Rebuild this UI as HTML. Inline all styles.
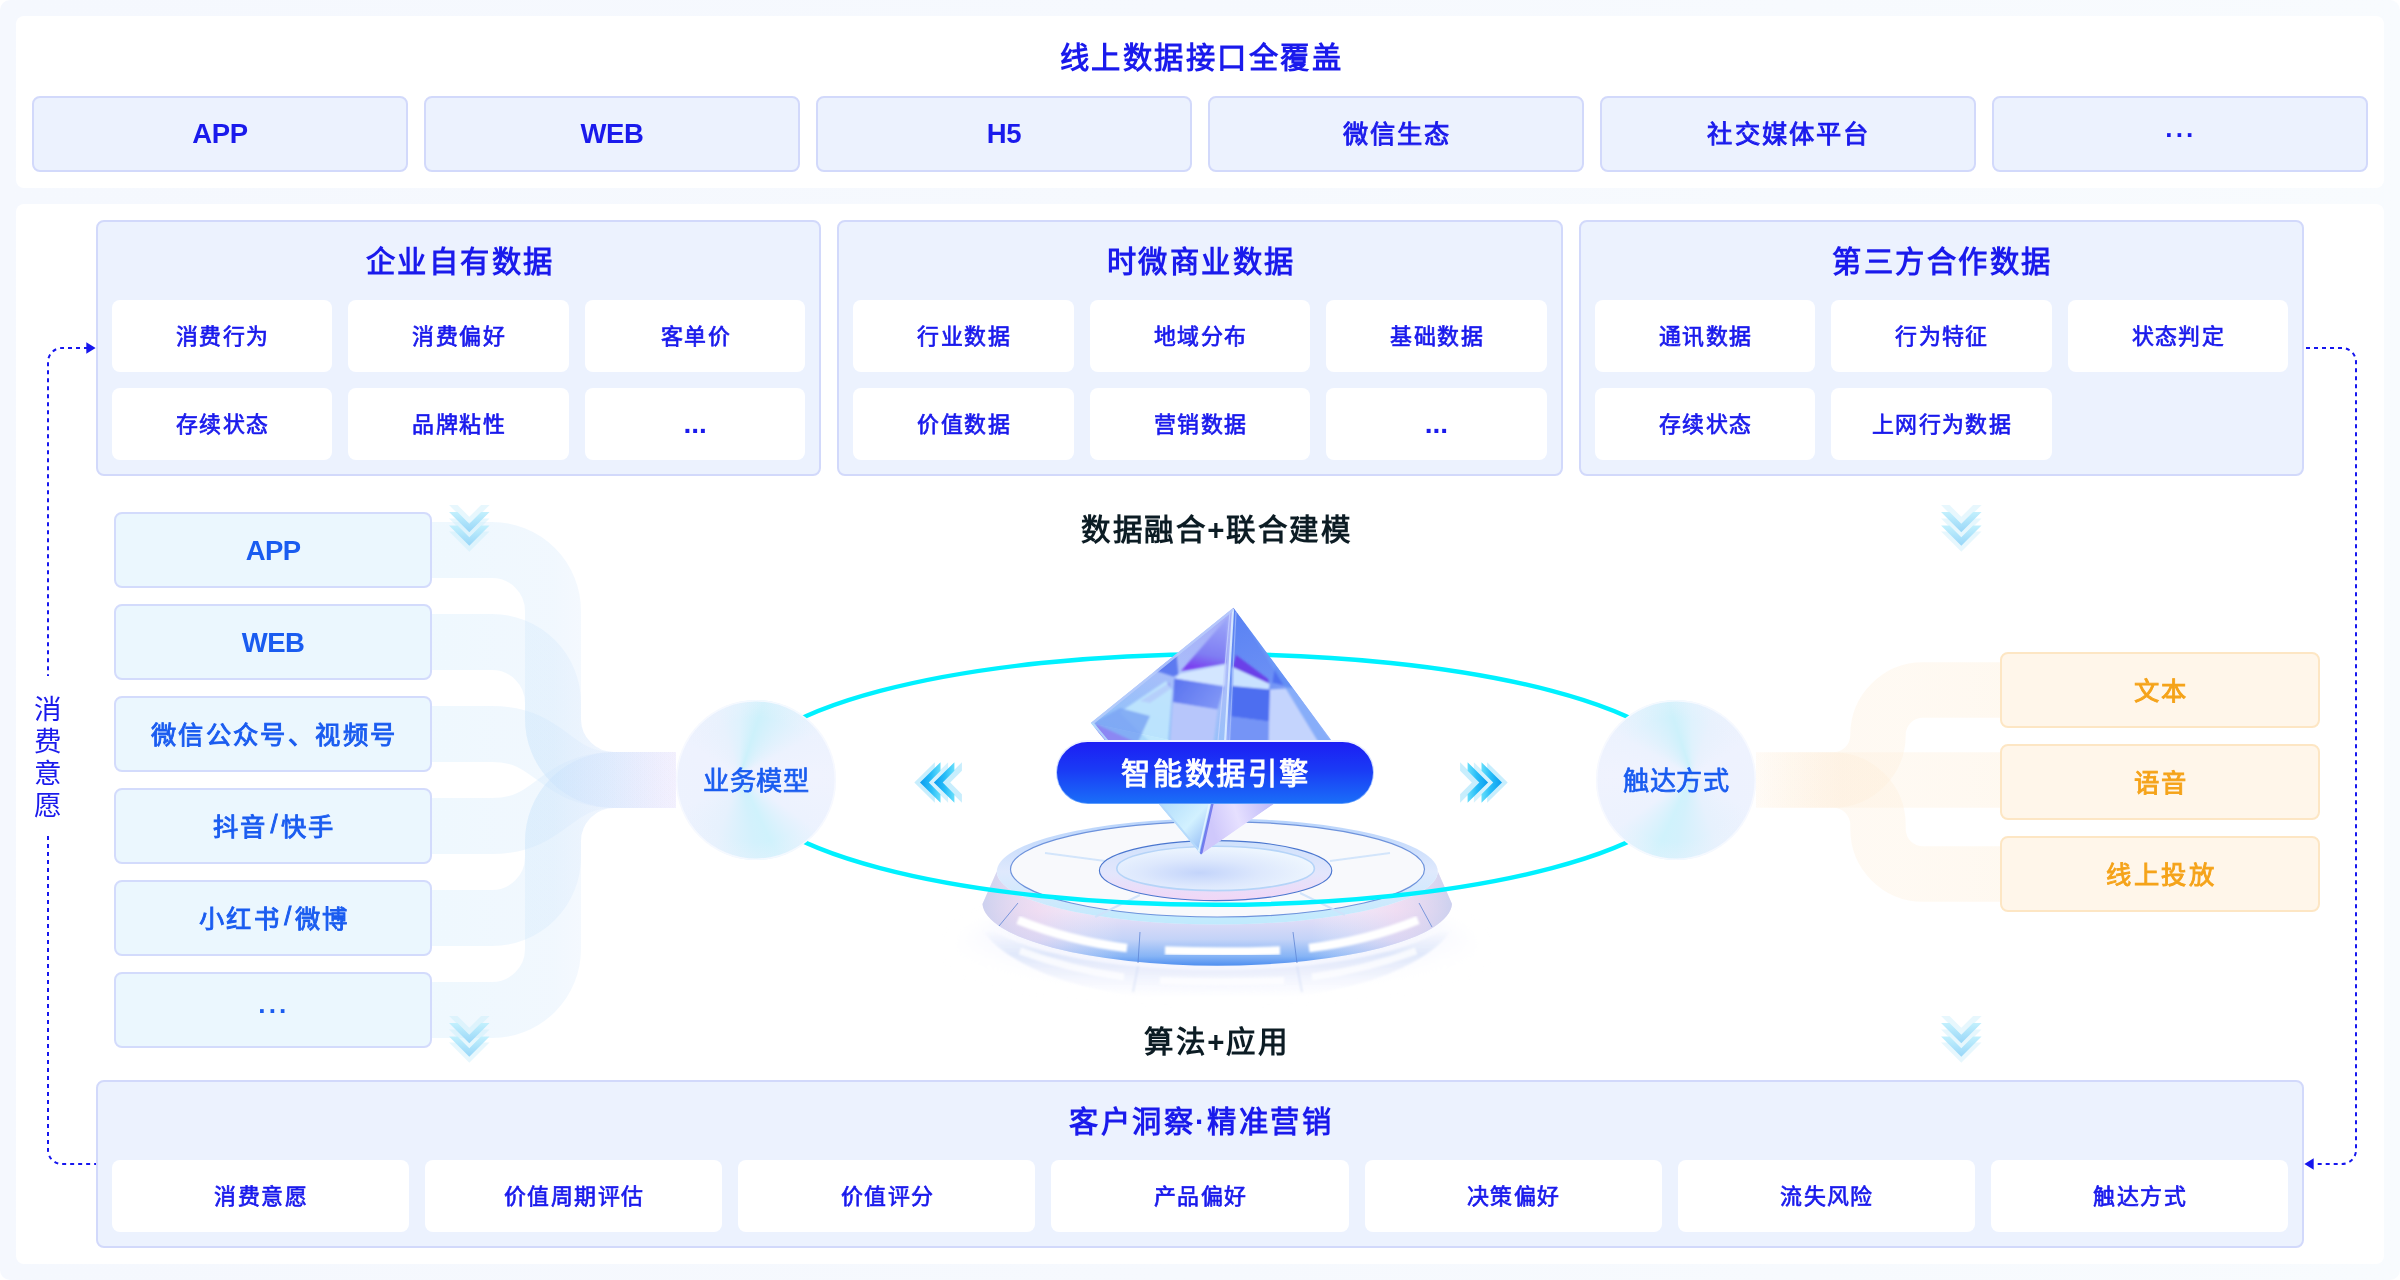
<!DOCTYPE html>
<html lang="zh-CN">
<head>
<meta charset="utf-8">
<title>线上数据接口全覆盖</title>
<style>
html,body{margin:0;padding:0;background:#fff;}
body{width:2400px;height:1280px;position:relative;overflow:hidden;font-family:"Liberation Sans",sans-serif;-webkit-font-smoothing:antialiased;}
#root{position:absolute;left:0;top:0;width:2400px;height:1280px;will-change:transform;transform:translateZ(0);}
#bg{position:absolute;left:0;top:0;width:2400px;height:1280px;background:linear-gradient(90deg,#f5f8fe 0%,#f6f9fe 50%,#f8fbfe 100%);border-radius:10px;}
.abs{position:absolute;}
.panel{position:absolute;background:#fff;border-radius:8px;}
.c{display:flex;align-items:center;justify-content:center;white-space:nowrap;}
.btn{position:absolute;box-sizing:border-box;border:2px solid #d2d9fb;background:#ecf2fe;border-radius:8px;color:#1a1aec;font-weight:700;font-size:27.5px;letter-spacing:-0.4px;}
.k{font-weight:400;-webkit-text-stroke:0.9px currentColor;font-size:25.3px;letter-spacing:2.2px;padding-left:2.2px;padding-bottom:3.6px;}
.grp{position:absolute;box-sizing:border-box;border:2px solid #d2d9fb;background:#ecf2fe;border-radius:8px;}
.ttl{position:absolute;color:#1a1aec;font-weight:700;font-size:29.3px;letter-spacing:2.5px;padding-left:2.5px;box-sizing:border-box;line-height:40px;height:40px;margin-top:0.5px;}
.cell{position:absolute;width:220.44px;height:72px;background:#fff;border-radius:8px;color:#1a1aec;font-size:21.9px;letter-spacing:1.45px;padding-left:1.45px;padding-bottom:4px;box-sizing:border-box;font-weight:400;-webkit-text-stroke:0.7px #1a1aec;}
.cellw{width:297.14px;}
.li{position:absolute;left:114px;width:318px;height:76px;box-sizing:border-box;border:2px solid #d3dbfc;background:#ebf7fe;border-radius:8px;color:#1a5cf0;font-weight:400;-webkit-text-stroke:0.9px #1a5cf0;font-size:25.3px;letter-spacing:2.4px;padding-left:2.4px;padding-bottom:2.2px;}
.ro{position:absolute;left:2000px;width:320px;height:76px;box-sizing:border-box;border:2px solid #fde6c4;background:#fff6ea;border-radius:8px;color:#f5a31a;font-weight:400;-webkit-text-stroke:0.9px #f5a31a;font-size:25.3px;letter-spacing:2.4px;padding-left:2.4px;padding-bottom:2.2px;}
.blk{position:absolute;color:#0c1c24;font-weight:700;font-size:29.5px;letter-spacing:1.6px;padding-left:1.6px;box-sizing:border-box;line-height:40px;height:40px;margin-top:1px;}
.circ{position:absolute;width:160px;height:160px;border-radius:50%;color:#1a5cf0;font-size:26.2px;letter-spacing:.9px;padding-left:.9px;padding-bottom:2.4px;box-sizing:border-box;font-weight:400;-webkit-text-stroke:0.7px #1a5cf0;}
svg{position:absolute;left:0;top:0;overflow:visible;}
.lat{font-weight:700;-webkit-text-stroke:0;font-size:27.5px;letter-spacing:-0.6px;padding-left:0;padding-bottom:0;padding-top:2px;}
.md{font-weight:700;-webkit-text-stroke:0;font-size:26px;letter-spacing:1.64px;padding-left:1.64px;padding-bottom:0;padding-top:3px;}
.bd{font-weight:700;-webkit-text-stroke:0;font-size:28px;letter-spacing:0;padding-left:0;padding-bottom:0;padding-top:0;}
</style>
</head>
<body>
<div id="root">
<div id="bg"></div>

<!-- top panel -->
<div class="panel" style="left:16px;top:16px;width:2368px;height:172px;"></div>
<div class="ttl c" style="left:900px;top:37px;width:600px;">线上数据接口全覆盖</div>
<div class="btn c" style="left:32px;top:96px;width:376px;height:76px;">APP</div>
<div class="btn c" style="left:424px;top:96px;width:376px;height:76px;">WEB</div>
<div class="btn c" style="left:816px;top:96px;width:376px;height:76px;">H5</div>
<div class="btn k c" style="left:1208px;top:96px;width:376px;height:76px;">微信生态</div>
<div class="btn k c" style="left:1600px;top:96px;width:376px;height:76px;">社交媒体平台</div>
<div class="btn md c" style="left:1992px;top:96px;width:376px;height:76px;">···</div>

<!-- main panel -->
<div class="panel" style="left:16px;top:204px;width:2368px;height:1060px;"></div>

<!-- GRAPHICS-BACK -->
<svg id="gback" width="2400" height="1280" viewBox="0 0 2400 1280">
<defs>
  <linearGradient id="bandL" gradientUnits="userSpaceOnUse" x1="432" y1="0" x2="676" y2="0">
    <stop offset="0" stop-color="#c9e8fc" stop-opacity=".3"/>
    <stop offset=".5" stop-color="#c9e3fb" stop-opacity=".26"/>
    <stop offset=".75" stop-color="#d2e2fb" stop-opacity=".17"/>
    <stop offset="1" stop-color="#e2dcfa" stop-opacity=".09"/>
  </linearGradient>
  <linearGradient id="bandR" gradientUnits="userSpaceOnUse" x1="1756" y1="0" x2="2000" y2="0">
    <stop offset="0" stop-color="#fdecd6" stop-opacity=".08"/>
    <stop offset=".35" stop-color="#fdecd6" stop-opacity=".3"/>
    <stop offset=".6" stop-color="#feeed8" stop-opacity=".32"/>
    <stop offset="1" stop-color="#feefda" stop-opacity=".4"/>
  </linearGradient>
  <linearGradient id="skirt" x1="0" y1="0" x2="0" y2="1">
    <stop offset="0" stop-color="#ebebfb"/>
    <stop offset=".42" stop-color="#ece1f7"/>
    <stop offset=".72" stop-color="#c3d3f8"/>
    <stop offset=".9" stop-color="#86b4f6"/>
    <stop offset="1" stop-color="#4f8ff0"/>
  </linearGradient>
  <linearGradient id="skirtH" x1="0" y1="0" x2="1" y2="0">
    <stop offset="0" stop-color="#c9cfee" stop-opacity=".9"/>
    <stop offset=".12" stop-color="#f3d9ee" stop-opacity=".5"/>
    <stop offset=".3" stop-color="#ffffff" stop-opacity="0"/>
    <stop offset=".7" stop-color="#ffffff" stop-opacity="0"/>
    <stop offset=".88" stop-color="#f3d9ee" stop-opacity=".5"/>
    <stop offset="1" stop-color="#c9cfee" stop-opacity=".9"/>
  </linearGradient>
  <linearGradient id="rimG" x1="0" y1="0" x2="0" y2="1">
    <stop offset="0" stop-color="#b7d3fb"/>
    <stop offset=".5" stop-color="#dfe9fd"/>
    <stop offset="1" stop-color="#bfeafd"/>
  </linearGradient>
  <linearGradient id="cring" x1="0" y1="0" x2="0" y2="1">
    <stop offset="0" stop-color="#cfe2fc"/>
    <stop offset=".55" stop-color="#e3e6fc"/>
    <stop offset="1" stop-color="#f1d6f6"/>
  </linearGradient>
  <radialGradient id="cdisc" cx=".42" cy=".6" r=".6">
    <stop offset="0" stop-color="#c3d4fb"/>
    <stop offset=".5" stop-color="#dde8fd"/>
    <stop offset="1" stop-color="#eef6fe"/>
  </radialGradient>
  <radialGradient id="refl" cx=".5" cy=".35" r=".6">
    <stop offset="0" stop-color="#e4e6fb" stop-opacity=".9"/>
    <stop offset=".6" stop-color="#eef0fd" stop-opacity=".6"/>
    <stop offset="1" stop-color="#ffffff" stop-opacity="0"/>
  </radialGradient>
  <linearGradient id="reflG" gradientUnits="userSpaceOnUse" x1="0" y1="930" x2="0" y2="1000">
    <stop offset="0" stop-color="#cfdcf8" stop-opacity=".0"/>
    <stop offset=".35" stop-color="#cfdcf8" stop-opacity=".6"/>
    <stop offset=".6" stop-color="#dde4fa" stop-opacity=".45"/>
    <stop offset="1" stop-color="#eef0fd" stop-opacity="0"/>
  </linearGradient>
  <filter id="b1" x="-10%" y="-10%" width="120%" height="120%"><feGaussianBlur stdDeviation="1.1"/></filter>
  <filter id="b3" x="-20%" y="-20%" width="140%" height="140%"><feGaussianBlur stdDeviation="3"/></filter>
  <filter id="b8" x="-20%" y="-40%" width="140%" height="180%"><feGaussianBlur stdDeviation="8"/></filter>
  <clipPath id="crysU"><path d="M1233.5 607.5 L1090.5 723 L1201 854.5 L1343 756 Z"/></clipPath>
  <linearGradient id="f1g" gradientUnits="userSpaceOnUse" x1="1200" y1="610" x2="1150" y2="745">
    <stop offset="0" stop-color="#a7aef8"/>
    <stop offset=".45" stop-color="#a9bdfa"/>
    <stop offset="1" stop-color="#8fc2f9"/>
  </linearGradient>
  <linearGradient id="f2g" gradientUnits="userSpaceOnUse" x1="1245" y1="610" x2="1300" y2="745">
    <stop offset="0" stop-color="#5a82f3"/>
    <stop offset=".5" stop-color="#6b90f5"/>
    <stop offset="1" stop-color="#c3cdfe"/>
  </linearGradient>
  <linearGradient id="f3g" gradientUnits="userSpaceOnUse" x1="1160" y1="790" x2="1215" y2="840">
    <stop offset="0" stop-color="#a9d8fb"/>
    <stop offset=".6" stop-color="#d2f1ff"/>
    <stop offset="1" stop-color="#8fb8f6"/>
  </linearGradient>
  <linearGradient id="f4g" gradientUnits="userSpaceOnUse" x1="1210" y1="820" x2="1275" y2="800">
    <stop offset="0" stop-color="#cfc8fb"/>
    <stop offset=".4" stop-color="#e6e0ff"/>
    <stop offset="1" stop-color="#b9b4f8"/>
  </linearGradient>
  <linearGradient id="p1g" gradientUnits="userSpaceOnUse" x1="1215" y1="620" x2="1205" y2="670">
    <stop offset="0" stop-color="#9aa4f8"/>
    <stop offset=".7" stop-color="#7f7df3"/>
    <stop offset="1" stop-color="#7a3ff0"/>
  </linearGradient>
  <linearGradient id="p3g" gradientUnits="userSpaceOnUse" x1="1175" y1="680" x2="1215" y2="710">
    <stop offset="0" stop-color="#5b74f0"/>
    <stop offset="1" stop-color="#8096f6"/>
  </linearGradient>
</defs>

<!-- left connector bands -->
<g fill="none" stroke="url(#bandL)" stroke-width="56">
  <path d="M432 550 H492 A61 61 0 0 1 553 611 V719 A61 61 0 0 0 614 780 H676"/>
  <path d="M432 642 H492 A61 61 0 0 1 553 703 V719 A61 61 0 0 0 614 780 H676"/>
  <path d="M432 734 H492 C553 734 553 780 614 780 H676"/>
  <path d="M432 826 H492 C553 826 553 780 614 780 H676"/>
  <path d="M432 918 H492 A61 61 0 0 0 553 857 V841 A61 61 0 0 1 614 780 H676"/>
  <path d="M432 1010 H492 A61 61 0 0 0 553 949 V841 A61 61 0 0 1 614 780 H676"/>
</g>
<!-- right connector bands -->
<g fill="none" stroke="url(#bandR)" stroke-width="55.4">
  <path d="M1756 780 H1833 A45 45 0 0 0 1878 735 A45 45 0 0 1 1923 690 H2000"/>
  <path d="M1756 780 H2000"/>
  <path d="M1756 780 H1833 A45 45 0 0 1 1878 825 V829 A45 45 0 0 0 1923 874 H2000"/>
</g>

<!-- platform -->
<ellipse cx="1217" cy="948" rx="262" ry="52" fill="url(#refl)" filter="url(#b8)"/>
<g filter="url(#b1)">
  <path d="M975 906 A242 64 0 0 0 1459 906 A242 96 0 0 1 975 906 Z" fill="url(#reflG)"/>
  <g fill="none" stroke="#ffffff" stroke-width="7" opacity=".75">
    <path d="M1020 951 Q1072 970 1124 977"/>
    <path d="M1160 980.5 Q1222 982.5 1284 980.5"/>
    <path d="M1312 977 Q1364 970 1416 951"/>
  </g>
  <g stroke="#cdd9f6" stroke-width="1.2" opacity=".8"><path d="M1138 966 L1133 992"/><path d="M1297 966 L1302 992"/></g>
</g>
<path d="M982.5 904 A234.8 63 0 0 0 1452 904 L1437.8 871.5 A220.5 53 0 0 1 996.8 871.5 Z" fill="url(#skirt)"/>
<path d="M982.5 904 A234.8 63 0 0 0 1452 904 L1437.8 871.5 A220.5 53 0 0 1 996.8 871.5 Z" fill="url(#skirtH)"/>
<!-- slots -->
<g fill="none" stroke="#ffffff" stroke-width="8.5" filter="url(#b1)">
  <path d="M1018 920 Q1070 941 1127 948"/>
  <path d="M1165 950.5 Q1222 952.5 1280 950.5"/>
  <path d="M1309 948 Q1366 941 1418 920"/>
</g>
<g stroke="#5f86d6" stroke-width="1" fill="none" opacity=".8">
  <path d="M1018 903 L999 926"/><path d="M1140 932 L1138 963"/><path d="M1293 932 L1297 963"/><path d="M1419 903 L1432 927"/>
</g>
<ellipse cx="1217.3" cy="871.5" rx="220.5" ry="53" fill="url(#rimG)"/>
<ellipse cx="1217.5" cy="869.3" rx="207" ry="47.7" fill="#f8f9fc" stroke="#6e93dc" stroke-width="1.2"/>
<g stroke="#cfe3fb" stroke-width="2" fill="none" opacity=".9">
  <path d="M1045 853 L1105 861"/><path d="M1390 853 L1330 861"/><path d="M1095 917 L1140 895"/><path d="M1345 915 L1300 893"/>
</g>
<ellipse cx="1215.6" cy="870.6" rx="116.2" ry="30" fill="url(#cring)" stroke="#4a76cf" stroke-width="1.1"/>
<ellipse cx="1215.6" cy="868.4" rx="98.8" ry="22.2" fill="url(#cdisc)" stroke="#b5d4f8" stroke-width="1.6"/>

<!-- ring -->
<ellipse cx="1216" cy="779.5" rx="475" ry="125.3" fill="none" stroke="#00f1ff" stroke-width="4.4"/>

<!-- crystal -->
<g clip-path="url(#crysU)">
  <path d="M1233.5 607.5 L1090.5 723 L1224 752 Z" fill="url(#f1g)"/>
  <path d="M1233.5 607.5 L1224 752 L1343 756 Z" fill="url(#f2g)"/>
  <path d="M1090.5 723 L1201 854.5 L1224 752 Z" fill="url(#f3g)"/>
  <path d="M1224 752 L1201 854.5 L1343 756 Z" fill="url(#f4g)"/>
  <g filter="url(#b1)">
    <!-- left facet patches -->
    <path d="M1228 617 L1181 671 L1225.6 663.5 Z" fill="url(#p1g)"/>
    <path d="M1180 673.5 L1225.6 664.5 L1224.4 686 L1175 678.5 Z" fill="#d3e6ff"/>
    <path d="M1174.4 678.5 L1223.8 686.6 L1217.5 709.5 L1173 702.3 Z" fill="url(#p3g)"/>
    <path d="M1155 670.5 L1176.5 654 L1178.3 674.3 L1173.5 676.5 Z" fill="#5d7af0"/>
    <path d="M1173 702.3 L1217.5 709.5 L1213.7 742 L1170 742 Z" fill="#b7c6fb"/>
    <path d="M1140 701 L1168.8 683 L1170.5 689 L1150 703 Z" fill="#7b5af0"/>
    <path d="M1120 712 L1166 681 L1172 690 L1168 742 L1150 742 Z" fill="#c4ecfe" opacity=".8"/>
    <path d="M1094 722 L1120 708 L1150 716 L1138 742 L1100 742 Z" fill="#7da6f4" opacity=".85"/>
    <path d="M1095 723.5 L1135 742 L1100 742 Z" fill="#8f7ef2" opacity=".8"/>
    <!-- right facet patches -->
    <path d="M1236 655 L1268 679 L1270 687 L1232.5 668 Z" fill="#6a3fe8"/>
    <path d="M1232.5 667 L1270 684 L1268.8 690 L1232.5 686.5 Z" fill="#c9e2ff"/>
    <path d="M1232.5 686 L1270 689.5 L1268.8 721.5 L1231.2 716.5 Z" fill="#4d6ef0"/>
    <path d="M1275 667 L1294 688 L1272.5 682.5 Z" fill="#4f6ff0"/>
    <path d="M1231.2 716.5 L1268.8 721.5 L1268.8 742 L1229 742 Z" fill="#7494f6"/>
    <path d="M1270 689.5 L1294 688 L1333 742 L1268.8 742 Z" fill="#c4d4fd"/>
    <path d="M1239 612 L1296 690 L1343 756 L1320 745 Z" fill="#6d9cf6" opacity=".7"/>
  </g>
  <!-- ridge highlights -->
  <g fill="none" stroke-linecap="round">
    <path d="M1233 610 L1224.5 752" stroke="#dff0ff" stroke-width="2.2" opacity=".85"/>
    <path d="M1230 612 L1217 752" stroke="#c9d6ff" stroke-width="1.2" opacity=".7"/>
    <path d="M1236 612 L1229 752" stroke="#a9c1fb" stroke-width="1.2" opacity=".7"/>
    <path d="M1232 610 L1093 722.5" stroke="#b9cdfb" stroke-width="3" opacity=".8"/>
    <path d="M1093 723.5 L1201 853" stroke="#b5d9fc" stroke-width="2" opacity=".9"/>
    <path d="M1224 752 L1201 854" stroke="#5a62ea" stroke-width="2.6" opacity=".75"/>
    <path d="M1221 752 L1198.5 852" stroke="#e6f6ff" stroke-width="1.6" opacity=".9"/>
  </g>
</g>
</svg>
<!-- GRAPHICS-BACK-END -->

<!-- group 1 -->
<div class="grp" style="left:96px;top:220px;width:725.33px;height:256px;"></div>
<div class="ttl c" style="left:159px;top:241px;width:600px;">企业自有数据</div>
<div class="cell c" style="left:112px;top:300px;">消费行为</div>
<div class="cell c" style="left:348.44px;top:300px;">消费偏好</div>
<div class="cell c" style="left:584.88px;top:300px;">客单价</div>
<div class="cell c" style="left:112px;top:388px;">存续状态</div>
<div class="cell c" style="left:348.44px;top:388px;">品牌粘性</div>
<div class="cell bd c" style="left:584.88px;top:388px;">...</div>

<!-- group 2 -->
<div class="grp" style="left:837.33px;top:220px;width:725.33px;height:256px;"></div>
<div class="ttl c" style="left:900px;top:241px;width:600px;">时微商业数据</div>
<div class="cell c" style="left:853.33px;top:300px;">行业数据</div>
<div class="cell c" style="left:1089.77px;top:300px;">地域分布</div>
<div class="cell c" style="left:1326.21px;top:300px;">基础数据</div>
<div class="cell c" style="left:853.33px;top:388px;">价值数据</div>
<div class="cell c" style="left:1089.77px;top:388px;">营销数据</div>
<div class="cell bd c" style="left:1326.21px;top:388px;">...</div>

<!-- group 3 -->
<div class="grp" style="left:1578.67px;top:220px;width:725.33px;height:256px;"></div>
<div class="ttl c" style="left:1641px;top:241px;width:600px;">第三方合作数据</div>
<div class="cell c" style="left:1594.67px;top:300px;">通讯数据</div>
<div class="cell c" style="left:1831.11px;top:300px;">行为特征</div>
<div class="cell c" style="left:2067.55px;top:300px;">状态判定</div>
<div class="cell c" style="left:1594.67px;top:388px;">存续状态</div>
<div class="cell c" style="left:1831.11px;top:388px;">上网行为数据</div>

<!-- left list -->
<div class="li lat c" style="top:512px;">APP</div>
<div class="li lat c" style="top:604px;">WEB</div>
<div class="li c" style="top:696px;">微信公众号、视频号</div>
<div class="li c" style="top:788px;">抖音<span style="margin:0 1px 0 3px">/</span>快手</div>
<div class="li c" style="top:880px;">小红书<span style="margin:0 1px 0 3px">/</span>微博</div>
<div class="li md c" style="top:972px;">···</div>

<!-- right list -->
<div class="ro c" style="top:652px;">文本</div>
<div class="ro c" style="top:744px;">语音</div>
<div class="ro c" style="top:836px;">线上投放</div>

<!-- middle captions -->
<div class="blk c" style="left:916px;top:509px;width:600px;">数据融合+联合建模</div>
<div class="blk c" style="left:916px;top:1021px;width:600px;">算法+应用</div>

<!-- bottom group -->
<div class="grp" style="left:96px;top:1080px;width:2208px;height:168px;"></div>
<div class="ttl c" style="left:900px;top:1101px;width:600px;">客户洞察·精准营销</div>
<div class="cell cellw c" style="left:112px;top:1160px;">消费意愿</div>
<div class="cell cellw c" style="left:425.14px;top:1160px;">价值周期评估</div>
<div class="cell cellw c" style="left:738.29px;top:1160px;">价值评分</div>
<div class="cell cellw c" style="left:1051.43px;top:1160px;">产品偏好</div>
<div class="cell cellw c" style="left:1364.57px;top:1160px;">决策偏好</div>
<div class="cell cellw c" style="left:1677.71px;top:1160px;">流失风险</div>
<div class="cell cellw c" style="left:1990.86px;top:1160px;">触达方式</div>

<!-- GRAPHICS-FRONT -->
<div class="circ c" style="left:676px;top:700px;background:radial-gradient(circle at 50% 50%,rgba(240,244,254,0) 55%,rgba(238,243,254,.9) 100%),conic-gradient(from 0deg at 40% 47%,#dff2fd 0deg,#cdf1fb 18deg,#d6f1fc 30deg,#ecf2fe 62deg,#f0f3fe 90deg,#ecf2fe 125deg,#d0f2fc 155deg,#d3f1fc 168deg,#e6f1fd 200deg,#edf2fe 240deg,#eef2fe 300deg,#e8f1fd 340deg,#dff2fd 360deg);box-shadow:inset 0 0 0 1.5px rgba(247,249,255,.9);">业务模型</div>
<div class="circ c" style="left:1596px;top:700px;background:radial-gradient(circle at 50% 50%,rgba(240,244,254,0) 55%,rgba(238,243,254,.9) 100%),conic-gradient(from 0deg at 60% 47%,#dff2fd 0deg,#e8f1fd 20deg,#eef2fe 60deg,#edf2fe 120deg,#e6f1fd 160deg,#d3f1fc 192deg,#d0f2fc 205deg,#ecf2fe 235deg,#f0f3fe 270deg,#ecf2fe 298deg,#d6f1fc 330deg,#cdf1fb 342deg,#dff2fd 360deg);box-shadow:inset 0 0 0 1.5px rgba(247,249,255,.9);">触达方式</div>
<div class="abs" style="left:1055.6px;top:740.2px;width:318.8px;height:64px;border-radius:32px;background:linear-gradient(180deg,#f2f4ff 0%,#cfdcff 40%,#8db4ff 75%,#5d9bfb 100%);"></div>
<div class="abs c" style="left:1057.2px;top:741.8px;width:315.6px;height:61px;border-radius:31px;box-sizing:border-box;background:linear-gradient(180deg,#1c1ef4 0%,#1a3af5 45%,#1a6ef8 100%);color:#fff;font-weight:400;-webkit-text-stroke:1px #fff;font-size:29.3px;letter-spacing:2.6px;padding-left:2.6px;padding-bottom:2.4px;">智能数据引擎</div>
<div class="abs" style="left:32px;top:692px;width:32px;height:132px;background:#fff;"></div>
<div class="abs" style="left:28px;top:694.2px;width:40px;text-align:center;color:#1a1aec;font-size:27.6px;line-height:32px;font-weight:400;">消<br>费<br>意<br>愿</div>
<svg id="gfront" width="2400" height="1280" viewBox="0 0 2400 1280">
<defs>
  <linearGradient id="chv" x1="0" y1="0" x2="0" y2="1">
    <stop offset="0" stop-color="#c3f0fd"/>
    <stop offset="1" stop-color="#98d6f8"/>
  </linearGradient>
  <linearGradient id="chh" x1="0" y1="0" x2="1" y2="0">
    <stop offset="0" stop-color="#0a9cef"/>
    <stop offset=".55" stop-color="#27bdf8"/>
    <stop offset="1" stop-color="#66defb"/>
  </linearGradient>
  <!-- down chevron, apex at (0,0) outer tip; width 40.5, thickness 9 -->
  <path id="cd" d="M-20.25 -20.25 H-11.75 L0 -8.5 L11.75 -20.25 H20.25 L0 0 Z"/>
  <g id="dchev">
    <use href="#cd" y="-7" fill="#bfe9fb" opacity=".38"/>
    <use href="#cd" y="6.5" fill="#bfe9fb" opacity=".38"/>
    <use href="#cd" y="19.5" fill="#bfe9fb" opacity=".38"/>
    <use href="#cd" y="0" fill="url(#chv)"/>
    <use href="#cd" y="13.5" fill="url(#chv)"/>
  </g>
  <!-- left chevron, apex at (0,0) outer tip pointing left -->
  <path id="cl" d="M20.5 -20.2 V-11.8 L8.8 0 L20.5 11.8 V20.2 L0 0 Z"/>
  <g id="lchev">
    <use href="#cl" x="-5.7" fill="#a4e2fb" opacity=".6"/>
    <use href="#cl" x="7.6" fill="#a4e2fb" opacity=".45"/>
    <use href="#cl" x="21.4" fill="#a4e2fb" opacity=".6"/>
    <use href="#cl" x="0" fill="url(#chh)"/>
    <use href="#cl" x="13.9" fill="url(#chh)"/>
  </g>
</defs>
<use href="#dchev" x="469.3" y="532.3"/>
<use href="#dchev" x="1961.3" y="532.3"/>
<use href="#dchev" x="469.3" y="1043.3"/>
<use href="#dchev" x="1961.3" y="1043.3"/>
<use href="#lchev" x="920" y="782.5"/>
<use href="#lchev" transform="translate(1502 782.5) scale(-1 1)"/>
<!-- dotted feedback lines -->
<g fill="none" stroke="#1616ee" stroke-width="2" stroke-dasharray="4 4">
  <path d="M88 348 H62 A14 14 0 0 0 48 362 V676"/>
  <path d="M48 836 V1150 A14 14 0 0 0 62 1164 H96"/>
  <path d="M2306 348 H2342 A14 14 0 0 1 2356 362 V1150 A14 14 0 0 1 2342 1164 H2314"/>
</g>
<path d="M86.3 342.2 L95.6 348 L86.3 353.8 Z" fill="#1616ee"/>
<path d="M2313.7 1158.2 L2304.4 1164 L2313.7 1169.8 Z" fill="#1616ee"/>
</svg>
<!-- GRAPHICS-FRONT-END -->
</div>

</body>
</html>
